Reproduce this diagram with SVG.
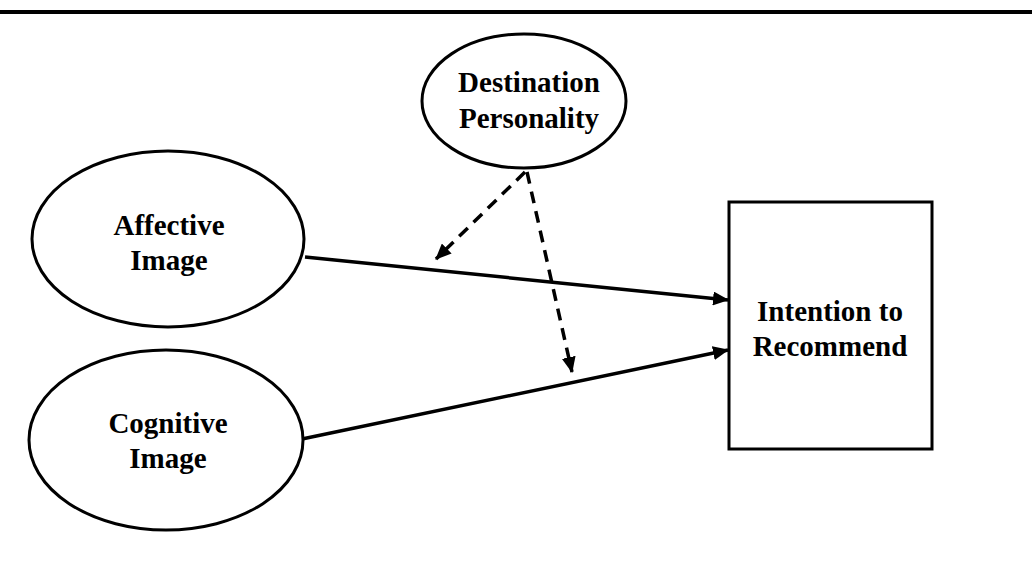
<svg xmlns="http://www.w3.org/2000/svg" width="1032" height="569" viewBox="0 0 1032 569">
<defs>
<style>
.shape{fill:#fff;stroke:#000;stroke-width:3}
.lbl{font-family:"Liberation Serif","Times New Roman",serif;font-weight:bold;font-size:29px;fill:#000;text-anchor:middle}
.conn{stroke:#000;stroke-width:3.5;fill:none}
.dash{stroke-dasharray:12 8}
</style>
<marker id="ah" viewBox="0 0 16 14" refX="15" refY="7" markerWidth="16" markerHeight="14" markerUnits="userSpaceOnUse" orient="auto">
<path d="M0,0 L16,7 L0,14 Z" fill="#000"/>
</marker>
</defs>
<rect x="0" y="10" width="1032" height="4" fill="#000"/>
<g id="connectors">
<line class="conn" x1="305" y1="257" x2="728" y2="300" marker-end="url(#ah)"/>
<line class="conn" x1="302" y1="439" x2="728" y2="350" marker-end="url(#ah)"/>
<line class="conn dash" x1="525" y1="172" x2="436" y2="259" marker-end="url(#ah)"/>
<line class="conn dash" x1="527" y1="172" x2="572" y2="372" marker-end="url(#ah)"/>
</g>
<g id="destination-personality">
<ellipse class="shape" cx="524" cy="101" rx="102" ry="67"/>
<text class="lbl" x="529" y="92">Destination</text>
<text class="lbl" x="529" y="128">Personality</text>
</g>
<g id="affective-image">
<ellipse class="shape" cx="168" cy="239" rx="136" ry="88"/>
<text class="lbl" x="169" y="235">Affective</text>
<text class="lbl" x="169" y="270">Image</text>
</g>
<g id="cognitive-image">
<ellipse class="shape" cx="166" cy="440" rx="137" ry="90"/>
<text class="lbl" x="168" y="433">Cognitive</text>
<text class="lbl" x="168" y="468">Image</text>
</g>
<g id="intention-to-recommend">
<rect class="shape" x="729" y="202" width="203" height="247"/>
<text class="lbl" x="830" y="321">Intention to</text>
<text class="lbl" x="830" y="356">Recommend</text>
</g>
</svg>
